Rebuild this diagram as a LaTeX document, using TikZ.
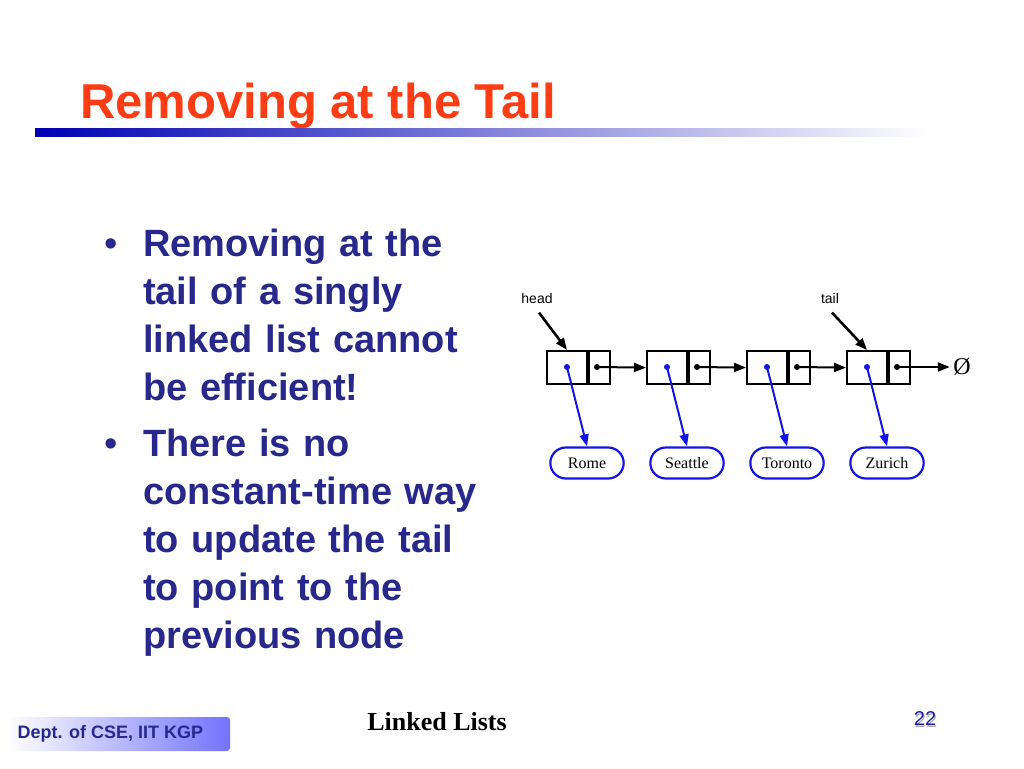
\documentclass[tikz,border=0pt]{standalone}
\usepackage{fontspec}
\setmainfont{Liberation Sans}
\newfontfamily\serifff{Liberation Serif}
\usetikzlibrary{arrows.meta,shapes.misc}
\definecolor{titlered}{RGB}{255,60,20}
\definecolor{navy}{RGB}{40,40,140}
\definecolor{lblue}{RGB}{20,20,230}
\begin{document}
\begin{tikzpicture}[x=1pt,y=-1pt,
  cell/.style={draw,line width=2.2pt,minimum width=40pt,minimum height=33pt,inner sep=0},
  ncell/.style={draw,line width=2.2pt,minimum width=21pt,minimum height=33pt,inner sep=0},
  elem/.style={draw=lblue,line width=2.2pt,rounded rectangle,minimum width=80pt,minimum height=31pt,font=\serifff\fontsize{16}{16}\selectfont},
  parr/.style={line width=2pt,-{Triangle[length=12pt,width=9pt]}},
  barr/.style={parr,draw=lblue,fill=lblue},
  dotc/.style={circle,fill,inner sep=0,minimum size=6pt},
  bul/.style={anchor=base west,text=navy,font=\bfseries\fontsize{38}{48}\selectfont,align=left,text width=400pt}]
\useasboundingbox (0,0) rectangle (1024,768);
\fill[white] (0,0) rectangle (1024,768);
\node[anchor=base west,text=titlered,font=\bfseries\fontsize{49}{49}\selectfont,inner sep=0] (title) at (80,118) {Removing at the Tail};
\shade[left color=blue!70!black,right color=white] (35,128) rectangle (930,136);
\node[anchor=base west,inner sep=0,text=navy,font=\fontsize{38}{38}\selectfont] (b1) at (104,256) {•};
\node[anchor=base west,inner sep=0,text=navy,font=\fontsize{38}{38}\selectfont] (b2) at (104,456) {•};
\node[bul,inner sep=0] (t1) at (143,256) {Removing at the\\tail of a singly\\linked list cannot\\be efficient!};
\node[bul,inner sep=0] (t2) at (143,456) {There is no\\constant-time way\\to update the tail\\to point to the\\previous node};
% list
\foreach \i/\x/\n in {1/546/Rome,2/646/Seattle,3/746/Toronto,4/846/Zurich}{
  \node[cell,anchor=north west] (v\i) at (\x,350) {};
  \node[ncell,anchor=north west] (p\i) at (\x+42,350) {};
  \node[dotc,text=lblue,fill=lblue] (vd\i) at (\x+21,367) {};
  \node[dotc] (pd\i) at (\x+51,367) {};
  \node[elem] (e\i) at (\x+41,463) {\n};
  \draw[barr] (vd\i.center) -- (e\i.north);
}
\foreach \i/\j in {1/2,2/3,3/4}{\draw[parr] (pd\i.center) -- (v\j.west);}
\node[font=\serifff\fontsize{24}{24}\selectfont] (null) at (962,367) {Ø};
\draw[parr] (pd4.center) -- (null.west);
\node[font=\fontsize{14}{14}\selectfont] (head) at (537,298) {head};
\node[font=\fontsize{14}{14}\selectfont] (tail) at (830,298) {tail};
\draw[parr,line width=2.6pt] (head.south) ++(2,6) coordinate (hs) -- (v1.north);
\draw[parr,line width=2.6pt] (tail.south) ++(2,6) coordinate (ts) -- (v4.north);
% footer
\shade[left color=white,right color=blue!55,rounded corners=3pt] (8,717) rectangle (230,751);
\node[anchor=west,text=navy,font=\bfseries\fontsize{18}{18}\selectfont] (dept) at (14,734) {Dept. of CSE, IIT KGP};
\node[font=\serifff\bfseries\fontsize{26}{26}\selectfont] (ll) at (437,722) {Linked Lists};
\node[text=gray!60,font=\fontsize{20}{20}\selectfont] at (926,721) {22};
\node[text=navy!80!blue,font=\fontsize{20}{20}\selectfont] (num) at (925,719) {22};
\end{tikzpicture}
\end{document}
